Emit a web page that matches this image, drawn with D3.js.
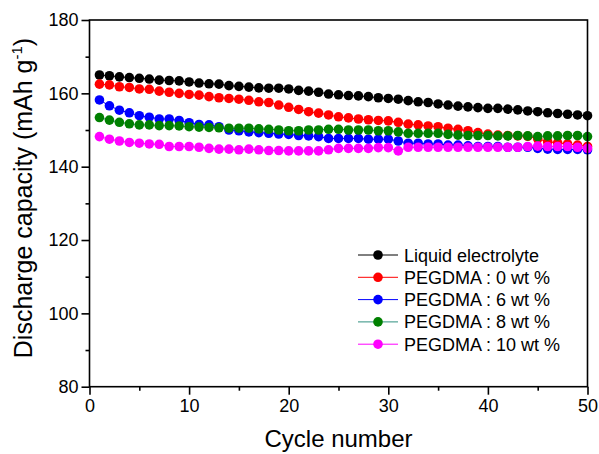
<!DOCTYPE html>
<html>
<head>
<meta charset="utf-8">
<script src="https://cdn.jsdelivr.net/npm/d3@7"></script>
<style>
  html, body { margin: 0; padding: 0; background: #fff; }
  svg { display: block; font-family: "Liberation Sans", Arial, sans-serif; }
</style>
</head>
<body>
<svg id="chart" width="599" height="454"></svg>
<script>
const cycles = d3.range(1, 51);

const liquid = [165.0,164.8,164.5,164.3,164.1,163.9,163.6,163.5,163.4,163.1,
  162.8,162.6,162.5,162.1,161.9,161.7,161.5,161.4,161.4,161.2,
  160.8,160.6,160.3,159.8,159.6,159.4,159.3,159.1,158.8,158.6,
  158.4,158.0,157.7,157.5,157.1,156.8,156.5,156.3,156.1,155.9,
  155.9,155.7,155.5,155.2,155.0,154.7,154.5,154.3,154.1,153.9];

const peg0 = [162.5,162.3,161.8,161.6,161.2,161.1,160.6,160.3,160.0,159.7,
  159.5,159.1,158.8,158.6,158.4,158.1,157.7,157.5,156.8,156.2,
  155.6,155.0,154.6,154.1,153.6,153.3,153.0,152.8,152.6,152.5,
  152.1,151.6,151.4,151.1,150.9,150.5,150.2,149.8,149.3,148.9,
  148.6,148.5,148.4,148.3,147.6,146.8,146.5,146.2,145.9,145.5];

const peg6 = [158.2,156.6,155.4,154.7,153.9,153.5,153.0,153.0,152.6,152.0,
  151.5,151.4,150.9,150.0,149.8,149.5,149.3,149.1,148.9,148.8,
  148.5,148.4,148.2,147.7,147.7,147.7,147.7,147.5,147.5,147.5,
  147.0,146.4,146.4,146.2,146.2,145.9,145.9,145.7,145.5,145.5,
  145.5,145.3,145.3,145.3,145.0,144.8,144.7,144.7,144.7,144.6];

const peg8 = [153.4,152.7,152.1,151.7,151.4,151.4,151.2,151.2,151.1,150.9,
  150.8,150.7,150.6,150.5,150.5,150.5,150.3,150.2,150.0,149.8,
  149.8,150.0,150.0,150.2,150.2,150.0,150.0,150.0,149.8,149.8,
  149.5,149.1,149.1,149.1,149.1,148.8,148.6,148.5,148.5,148.5,
  148.4,148.4,148.5,148.4,148.2,148.4,148.4,148.5,148.5,148.2];

const peg10 = [148.2,147.5,147.0,146.6,146.4,146.2,146.1,145.5,145.5,145.5,
  145.3,145.0,144.8,144.8,144.6,144.8,144.6,144.4,144.4,144.3,
  144.3,144.3,144.3,144.6,145.0,145.0,145.0,145.0,145.2,145.2,
  144.3,145.3,145.3,145.3,145.3,145.3,145.3,145.3,145.3,145.3,
  145.3,145.3,145.3,145.5,145.6,145.5,145.5,145.5,145.3,145.0];

const seriesNames = ["Liquid electrolyte","PEGDMA : 0 wt %","PEGDMA : 6 wt %","PEGDMA : 8 wt %","PEGDMA : 10 wt %"];
const seriesValues = [liquid, peg0, peg6, peg8, peg10];
const markerColors = ["#000000","#ff0000","#0000ff","#008000","#ff00ff"];
const lineColors = ["#000000","#ff0000","#0000ff","#2f8f7f","#ff00ff"];

const xTicks = [0,10,20,30,40,50];
const yTicks = [80,100,120,140,160,180];

const svg = d3.select("#chart");
const L = 89.5, R = 587.5, T = 20, B = 386.7;
const x = d3.scaleLinear().domain([0,50]).range([L,R]);
const y = d3.scaleLinear().domain([80,180]).range([B,T]);

// series
const line = d3.line().x((d,i)=>x(cycles[i])).y(d=>y(d));
seriesValues.forEach((vals, s) => {
  const g = svg.append("g");
  g.append("path").attr("d", line(vals)).attr("fill","none")
    .attr("stroke", lineColors[s]).attr("stroke-width",1);
  g.selectAll("circle").data(vals).join("circle")
    .attr("cx",(d,i)=>x(cycles[i])).attr("cy",d=>y(d)).attr("r",4.8)
    .attr("fill",markerColors[s]);
});

// frame
svg.append("rect").attr("x",L).attr("y",T).attr("width",R-L).attr("height",B-T)
  .attr("fill","none").attr("stroke","#000").attr("stroke-width",1.6);

// axes
svg.append("g").attr("transform",`translate(0,${B})`)
  .call(d3.axisBottom(x).tickValues(xTicks).tickSize(8).tickPadding(5).tickFormat(d3.format("d")));
svg.append("g").attr("transform",`translate(0,${B})`)
  .call(d3.axisBottom(x).tickValues([5,15,25,35,45]).tickSize(4).tickFormat(""));
svg.append("g").attr("transform",`translate(${L},0)`)
  .call(d3.axisLeft(y).tickValues(yTicks).tickSize(8).tickPadding(3).tickFormat(d3.format("d")));
svg.append("g").attr("transform",`translate(${L},0)`)
  .call(d3.axisLeft(y).tickValues([90,110,130,150,170]).tickSize(4).tickFormat(""));
svg.selectAll(".domain").remove();
svg.selectAll(".tick line").attr("stroke","#000").attr("stroke-width",1.6);
svg.selectAll(".tick text").attr("fill","#000").style("font-size","18px")
  .style("font-family",'"Liberation Sans", Arial, sans-serif');

// axis titles
svg.append("text").attr("x",(L+R)/2).attr("y",447).attr("text-anchor","middle")
  .style("font-size","24px").text("Cycle number");
const yt = svg.append("text").attr("transform","translate(32,198) rotate(-90)")
  .attr("text-anchor","middle").style("font-size","25px");
yt.append("tspan").text("Discharge capacity (mAh g");
yt.append("tspan").attr("dy",-10).style("font-size","15px").text("-1");
yt.append("tspan").attr("dy",10).text(")");

// legend
const lg = svg.append("g");
seriesNames.forEach((name, s) => {
  const ly = 255 + s*22.3;
  lg.append("line").attr("x1",358).attr("x2",398).attr("y1",ly).attr("y2",ly)
    .attr("stroke",lineColors[s]).attr("stroke-width",1);
  lg.append("circle").attr("cx",378).attr("cy",ly).attr("r",4.8).attr("fill",markerColors[s]);
  lg.append("text").attr("x",404).attr("y",ly+6.5).style("font-size","18px").text(name);
});
</script>
</body>
</html>
